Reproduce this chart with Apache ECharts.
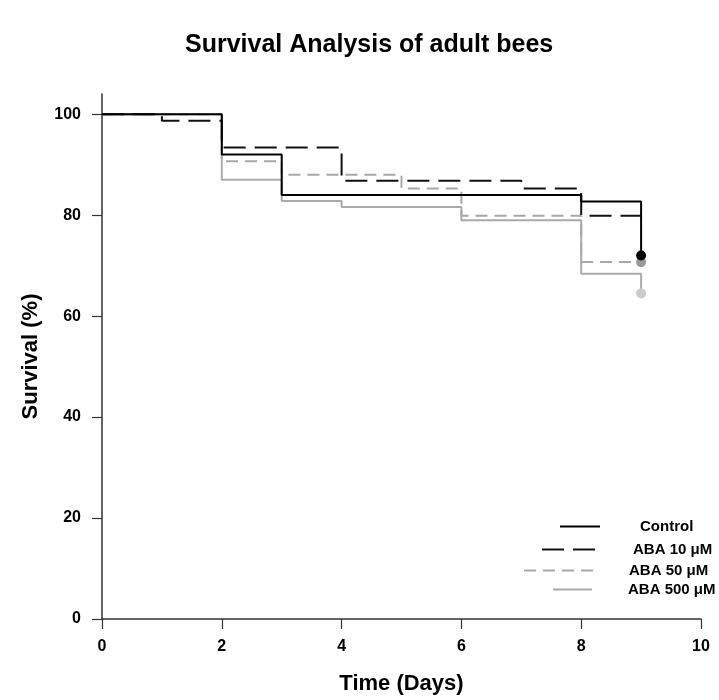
<!DOCTYPE html>
<html>
<head>
<meta charset="utf-8">
<script src="https://cdn.jsdelivr.net/npm/echarts@6/dist/echarts.min.js"></script>
<style>
  html, body { margin: 0; padding: 0; background: #fff; }
  #chart { width: 719px; height: 700px; }
</style>
</head>
<body>
<div id="chart"></div>
<script>
// step points [day, survival %] per group
const seriesNames = ['Control', 'ABA 10 μM', 'ABA 50 μM', 'ABA 500 μM'];
const controlPts = [[0, 100], [2, 92], [3, 84], [8, 82.7], [9, 72]];
const aba10Pts = [[0, 100], [1, 98.7], [2, 93.4], [4, 86.8], [7, 85.3], [8, 79.9], [9, 79.9]];
const aba50Pts = [[0, 100], [2, 90.7], [3, 88], [5, 85.3], [6, 79.9], [8, 70.7], [9, 70.7]];
const aba500Pts = [[0, 100], [2, 87], [3, 82.8], [4, 81.6], [6, 79], [8, 68.4], [9, 64.5]];
const xTicks = [0, 2, 4, 6, 8, 10];
const yTicks = [0, 20, 40, 60, 80, 100];

const font = 'Liberation Sans, Arial, sans-serif';
const lineColors = ['#000000', '#111111', '#a8a8a8', '#aaaaaa'];
const dashTypes = ['solid', [22, 9], [12, 7], 'solid'];
const dotColors = ['#000000', null, '#999999', '#cccccc'];
const allPts = [controlPts, aba10Pts, aba50Pts, aba500Pts];

const series = allPts.map(function (pts, i) {
  return {
    name: seriesNames[i],
    type: 'line',
    step: 'end',
    symbol: 'none',
    showSymbol: true,
    lineStyle: { color: lineColors[i], width: 2, type: dashTypes[i] },
    itemStyle: { color: lineColors[i] },
    data: pts.map(function (p, j) {
      if (j === pts.length - 1 && dotColors[i]) {
        return { value: p, symbol: 'circle', symbolSize: 10, itemStyle: { color: dotColors[i] } };
      }
      return p;
    }),
    z: 10 - i
  };
});

// legend rows (one legend each so the samples can sit like the original)
const legendRows = [
  { left: 559, top: 519, w: 40, pad: 35 },
  { left: 541, top: 542, w: 56, pad: 30 },
  { left: 523, top: 563, w: 71, pad: 29 },
  { left: 552, top: 582, w: 39, pad: 31 }
];
const legends = legendRows.map(function (r, i) {
  return {
    data: [seriesNames[i]],
    left: r.left,
    top: r.top,
    padding: 0,
    itemWidth: r.w,
    itemHeight: 14,
    itemGap: 0,
    selectedMode: false,
    itemStyle: { opacity: 0, borderWidth: 0 },
    textStyle: { fontFamily: font, fontWeight: 'bold', fontSize: 15, color: '#000', padding: [0, 0, 0, r.pad] }
  };
});

const chart = echarts.init(document.getElementById('chart'), null, { renderer: 'canvas' });
chart.setOption({
  animation: false,
  backgroundColor: '#fff',
  title: {
    text: 'Survival Analysis of adult bees',
    left: 180,
    top: 28,
    textStyle: { fontFamily: font, fontWeight: 'bold', fontSize: 25, color: '#000' }
  },
  legend: legends,
  grid: { left: 102, right: 18, top: 94, bottom: 79, containLabel: false },
  xAxis: {
    type: 'value',
    min: xTicks[0],
    max: xTicks[xTicks.length - 1],
    interval: 2,
    name: 'Time (Days)',
    nameLocation: 'middle',
    nameGap: 54,
    nameTextStyle: { fontFamily: font, fontWeight: 'bold', fontSize: 22, color: '#000' },
    axisLine: { onZero: false, lineStyle: { color: '#333', width: 1.5 } },
    axisTick: { show: true, length: 10, lineStyle: { color: '#333', width: 1.2 } },
    axisLabel: { margin: 20, fontFamily: font, fontWeight: 'bold', fontSize: 16, color: '#000' },
    splitLine: { show: false }
  },
  yAxis: {
    type: 'value',
    min: yTicks[0],
    max: 104,
    interval: 20,
    name: 'Survival (%)',
    nameLocation: 'middle',
    nameGap: 60,
    nameTextStyle: { fontFamily: font, fontWeight: 'bold', fontSize: 22, color: '#000' },
    axisLine: { show: true, lineStyle: { color: '#333', width: 1.5 } },
    axisTick: { show: true, length: 10, customValues: yTicks, lineStyle: { color: '#333', width: 1.2 } },
    axisLabel: {
      margin: 21,
      customValues: yTicks,
      fontFamily: font, fontWeight: 'bold', fontSize: 16, color: '#000'
    },
    splitLine: { show: false }
  },
  series: series
});
</script>
</body>
</html>
